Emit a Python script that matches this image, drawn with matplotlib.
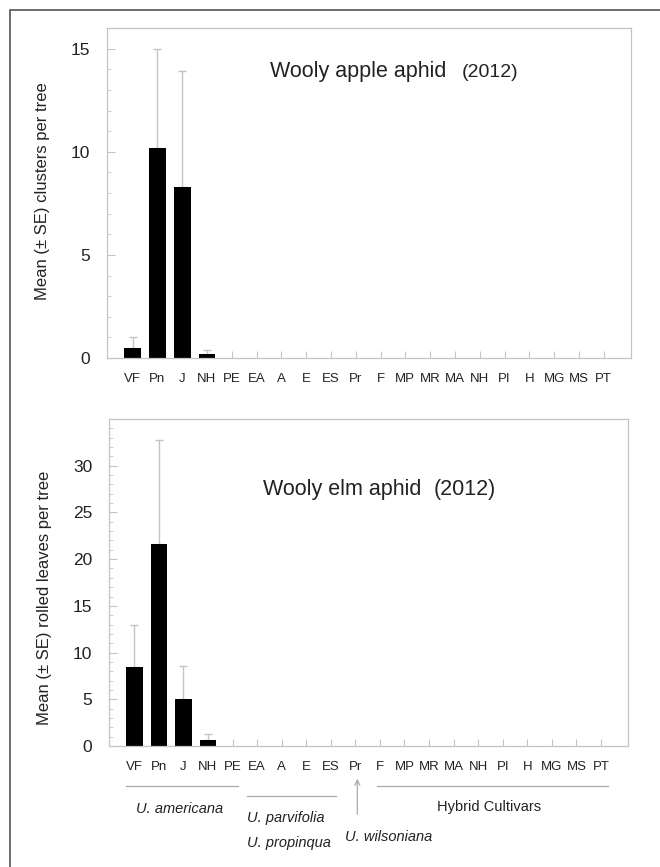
import matplotlib
matplotlib.use("Agg")
import matplotlib.pyplot as plt
import matplotlib.transforms as mtransforms
from matplotlib.patches import Rectangle

plt.rcParams["font.family"] = ["Liberation Sans", "DejaVu Sans"]

CULTIVARS = ["VF", "Pn", "J", "NH", "PE", "EA", "A", "E", "ES", "Pr",
             "F", "MP", "MR", "MA", "NH", "PI", "H", "MG", "MS", "PT"]

# Wooly apple aphid: clusters per tree
APPLE_MEAN = [0.5, 10.2, 8.3, 0.2, 0, 0, 0, 0, 0, 0, 0, 0, 0, 0, 0, 0, 0, 0, 0, 0]
APPLE_SE = [0.5, 4.8, 5.6, 0.2, 0, 0, 0, 0, 0, 0, 0, 0, 0, 0, 0, 0, 0, 0, 0, 0]

# Wooly elm aphid: rolled leaves per tree
ELM_MEAN = [8.5, 21.6, 5.0, 0.6, 0, 0, 0, 0, 0, 0, 0, 0, 0, 0, 0, 0, 0, 0, 0, 0]
ELM_SE = [4.4, 11.2, 3.6, 0.65, 0, 0, 0, 0, 0, 0, 0, 0, 0, 0, 0, 0, 0, 0, 0, 0]

W, H = 660, 867
GRAY = "#c4c4c4"


def fx(px):
    return px / W


def fy(py):
    return 1 - py / H


def draw_panel(ax, means, ses, ymax, major, ylabel_pos, ylabel):
    x = list(range(len(CULTIVARS)))
    n = sum(1 for s in ses if s > 0)
    ax.errorbar(x[:n], means[:n], yerr=[[0] * n, ses[:n]], fmt="none",
                ecolor=GRAY, elinewidth=1.0, capsize=3.2, capthick=1.0, zorder=1)
    ax.bar(x, means, width=0.68, color="black", zorder=2)
    ax.set_xlim(-1.03, 20.1)
    ax.set_ylim(0, ymax)
    ax.set_xticks(x)
    ax.set_xticklabels(CULTIVARS, fontsize=9.5, color="#222222")
    ax.set_yticks(range(0, ymax, major))
    ax.set_yticks(range(0, ymax), minor=True)
    ax.tick_params(axis="y", which="major", direction="in", length=6,
                   width=0.8, color=GRAY, labelsize=12.5, pad=12,
                   labelcolor="#222222")
    ax.tick_params(axis="y", which="minor", direction="in", length=3,
                   width=0.6, color=GRAY)
    ax.tick_params(axis="x", direction="in", length=5, width=0.8,
                   color=GRAY, pad=11)
    for sp in ax.spines.values():
        sp.set_color(GRAY)
        sp.set_linewidth(0.9)
    fig = ax.figure
    fig.text(fx(ylabel_pos[0]), fy(ylabel_pos[1]), ylabel, rotation=90,
             ha="center", va="center", fontsize=12, color="#222222")


fig = plt.figure(figsize=(W / 100, H / 100), dpi=100)
fig.patch.set_facecolor("white")

# outer frame (continues past the right and bottom edges)
fig.patches.append(Rectangle((fx(10), -0.05), 1.2, fy(10) + 0.05,
                             transform=fig.transFigure, fill=False,
                             edgecolor="#555555", linewidth=1.2))

ax1 = fig.add_axes([fx(107), fy(358), fx(631 - 107), (358 - 28) / H])
draw_panel(ax1, APPLE_MEAN, APPLE_SE, 16, 5, (43, 191),
           "Mean (\u00b1 SE) clusters per tree")
ax1.text(0.311, 0.852, "Wooly apple aphid", transform=ax1.transAxes,
         fontsize=15.5, va="baseline", ha="left", color="#222222")
ax1.text(0.677, 0.852, "(2012)", transform=ax1.transAxes,
         fontsize=14, va="baseline", ha="left", color="#222222")

ax2 = fig.add_axes([fx(109), fy(746), fx(628 - 109), (746 - 419) / H])
draw_panel(ax2, ELM_MEAN, ELM_SE, 35, 5, (45, 598),
           "Mean (\u00b1 SE) rolled leaves per tree")
ax2.text(0.297, 0.768, "Wooly elm aphid", transform=ax2.transAxes,
         fontsize=15.5, va="baseline", ha="left", color="#222222")
ax2.text(0.625, 0.768, "(2012)", transform=ax2.transAxes,
         fontsize=15.5, va="baseline", ha="left", color="#222222")

# species groupings below the lower panel
tr = mtransforms.blended_transform_factory(ax2.transData, fig.transFigure)
line_kw = dict(transform=tr, color="#aaaaaa", linewidth=0.9, clip_on=False)
ax2.plot([-0.33, 4.23], [fy(786), fy(786)], **line_kw)
ax2.plot([4.58, 8.2], [fy(796), fy(796)], **line_kw)
ax2.plot([9.87, 19.3], [fy(786), fy(786)], **line_kw)
ax2.annotate("", xy=(9.08, fy(776)), xytext=(9.08, fy(817)),
             xycoords=tr, textcoords=tr, annotation_clip=False,
             arrowprops=dict(arrowstyle="->", color="#aaaaaa", lw=0.9,
                             mutation_scale=9))

txt_kw = dict(transform=tr, fontsize=10.5, color="#222222", va="center")
ax2.text(1.83, fy(809), "U. americana", ha="center", style="italic", **txt_kw)
ax2.text(4.58, fy(818), "U. parvifolia", ha="left", style="italic", **txt_kw)
ax2.text(4.58, fy(843), "U. propinqua", ha="left", style="italic", **txt_kw)
ax2.text(8.58, fy(837), "U. wilsoniana", ha="left", style="italic", **txt_kw)
ax2.text(14.43, fy(807), "Hybrid Cultivars", ha="center", **txt_kw)

fig.savefig("out.png", dpi=100, facecolor="white")
